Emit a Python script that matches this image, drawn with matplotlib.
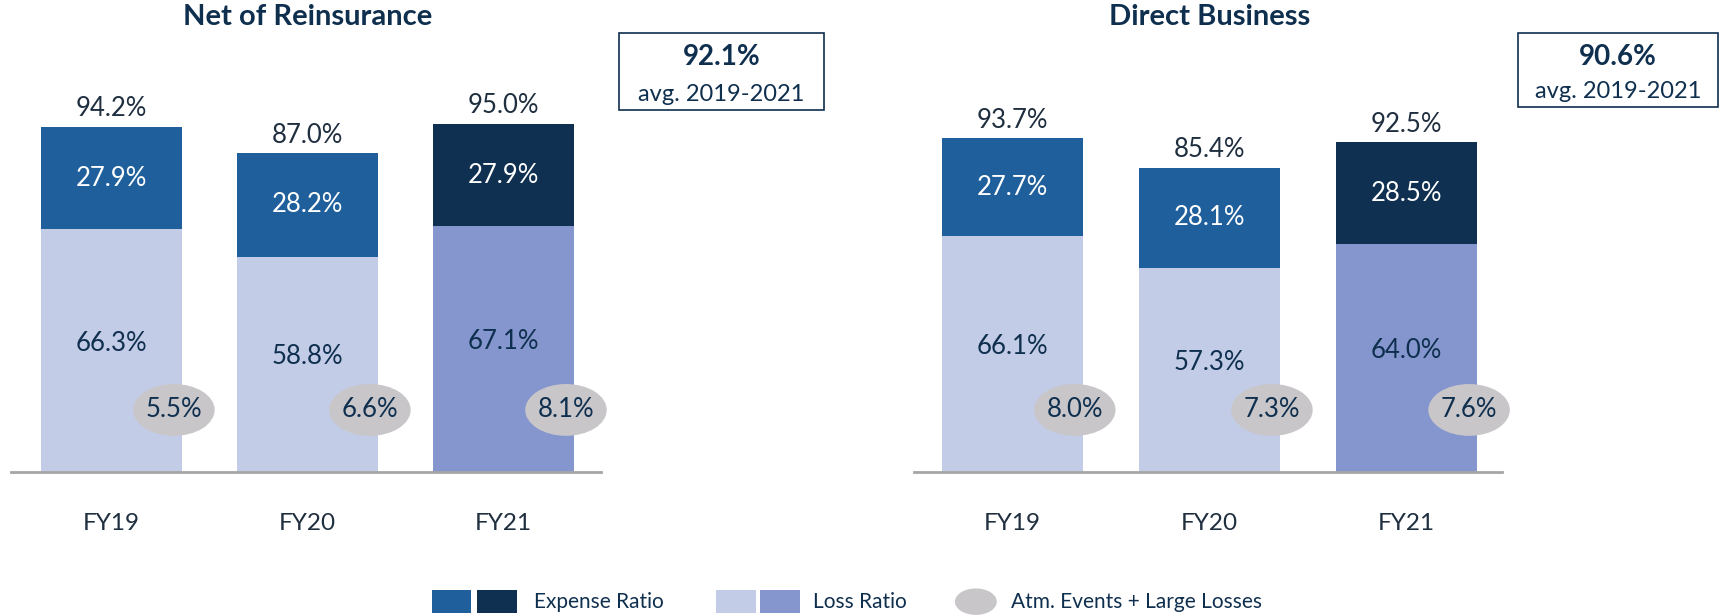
import matplotlib.pyplot as plt
from matplotlib.patches import Ellipse, Rectangle

plt.rcParams['font.family'] = ['Lato', 'DejaVu Sans']

years = ['FY19', 'FY20', 'FY21']

net_loss = [66.3, 58.8, 67.1]
net_expense = [27.9, 28.2, 27.9]
net_total = [94.2, 87.0, 95.0]
net_events = [5.5, 6.6, 8.1]
net_avg = 92.1

dir_loss = [66.1, 57.3, 64.0]
dir_expense = [27.7, 28.1, 28.5]
dir_total = [93.7, 85.4, 92.5]
dir_events = [8.0, 7.3, 7.6]
dir_avg = 90.6

exp_colors = ['#1f5f9b', '#1f5f9b', '#0f3050']
loss_colors = ['#c3cce6', '#c3cce6', '#8496cd']
ell_color = '#c8c6c9'
navy = '#0f2f4f'
axis_grey = '#a6a6a6'

W, H = 1568, 559  # layout measured on this scale
fig = plt.figure(figsize=(17.27, 6.16), dpi=100)


def panel(x0, x1, px_per_pct, centers_px, title, loss, expense, total, events, avg, box):
    step = centers_px[1] - centers_px[0]
    base = 428
    ax = fig.add_axes([x0 / W, 1 - base / H, (x1 - x0) / W, 100 * px_per_pct / H])
    xl = (x0 - centers_px[0]) / step
    xr = (x1 - centers_px[0]) / step
    ax.set_xlim(xl, xr)
    ax.set_ylim(0, 100)
    bw = 128 / step
    xs = range(len(years))
    ax.bar(xs, loss, width=bw, color=loss_colors)
    ax.bar(xs, expense, width=bw, bottom=loss, color=exp_colors)
    for i in xs:
        ax.text(i, total[i] + 5, f'{total[i]:.1f}%', ha='center', va='center',
                fontsize=18.5, color='#1f2f3f')
        ax.text(i, loss[i] + expense[i] / 2, f'{expense[i]:.1f}%', ha='center', va='center',
                fontsize=18.5, color='white')
        ax.text(i, loss[i] / 2 + 2, f'{loss[i]:.1f}%', ha='center', va='center',
                fontsize=18.5, color=navy)
        ex = i + bw / 2 - 0.04
        ey = 56 / px_per_pct
        ax.add_patch(Ellipse((ex, ey), 74 / step, 47 / px_per_pct, color=ell_color, lw=0,
                             clip_on=False))
        ax.text(ex, ey, f'{events[i]:.1f}%', ha='center', va='center',
                fontsize=18.5, color=navy)
    ax.set_xticks(list(xs))
    ax.set_xticklabels(years, fontsize=17.5, color='#1f2f3f')
    ax.tick_params(axis='x', length=0, pad=30)
    ax.set_yticks([])
    for s in ['top', 'right', 'left']:
        ax.spines[s].set_visible(False)
    ax.spines['bottom'].set_color(axis_grey)
    ax.spines['bottom'].set_linewidth(2)
    fig.text(sum(centers_px[::2]) / 2 / W, 1 - 15 / H, title, ha='center', va='center',
             fontsize=21, fontweight='bold', color=navy)
    bx0, by0, bx1, by1 = box
    fig.patches.append(Rectangle((bx0 / W, 1 - by1 / H), (bx1 - bx0) / W, (by1 - by0) / H,
                                 transform=fig.transFigure, fill=False, ec=navy, lw=1.2))
    cx = (bx0 + bx1) / 2 / W
    fig.text(cx, 1 - (by0 + 22) / H, f'{avg:.1f}%', ha='center', va='center',
             fontsize=20, fontweight='bold', color=navy)
    fig.text(cx, 1 - (by1 - 14) / H, 'avg. 2019-2021', ha='center', va='center',
             fontsize=17, color=navy)


panel(10, 546, 3.32, [101, 279, 457], 'Net of Reinsurance',
      net_loss, net_expense, net_total, net_events, net_avg, (562, 30, 748, 100))
panel(830, 1364, 3.23, [919, 1098, 1277], 'Direct Business',
      dir_loss, dir_expense, dir_total, dir_events, dir_avg, (1378, 30, 1560, 97))

# legend
ly = 546


def leg_rect(x, color):
    fig.patches.append(Rectangle((x / W, 1 - (ly + 10) / H), 36 / W, 21 / H,
                                 transform=fig.transFigure, color=color, lw=0))


leg_rect(392, exp_colors[0])
leg_rect(433, exp_colors[2])
fig.text(485 / W, 1 - ly / H, 'Expense Ratio', va='center', fontsize=15, color=navy)
leg_rect(650, loss_colors[0])
leg_rect(690, loss_colors[2])
fig.text(738 / W, 1 - ly / H, 'Loss Ratio', va='center', fontsize=15, color=navy)
fig.patches.append(Ellipse((886 / W, 1 - ly / H), 38 / W, 24 / H,
                           transform=fig.transFigure, color=ell_color, lw=0))
fig.text(918 / W, 1 - ly / H, 'Atm. Events + Large Losses', va='center', fontsize=15, color=navy)

fig.savefig('out.png', dpi=100)
